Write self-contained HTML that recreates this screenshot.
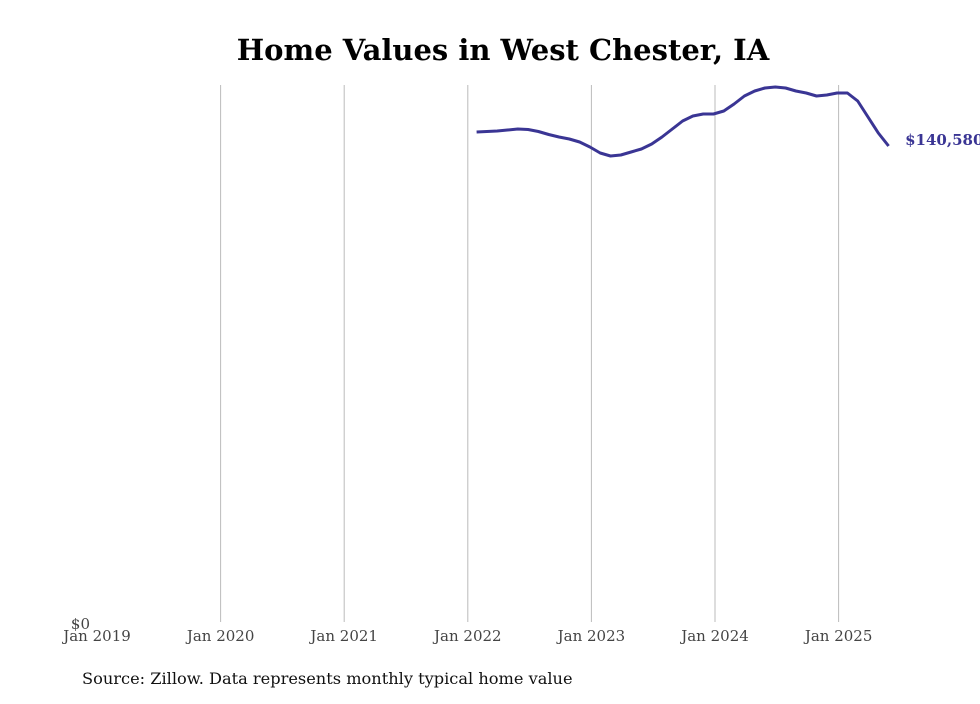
<!DOCTYPE html>
<html><head><meta charset="utf-8"><style>
body{margin:0;background:#fff;width:980px;height:699px;overflow:hidden}
svg{font-family:"DejaVu Serif","Liberation Serif",serif}
</style></head><body>
<svg width="980" height="699">
<text x="503" y="60" text-anchor="middle" font-size="29" font-weight="bold" fill="#000">Home Values in West Chester, IA</text>
<g id="grid"></g>
<g id="xt"></g>
<text x="90" y="629" text-anchor="end" font-size="15" fill="#444">$0</text>
<path id="line" fill="none" stroke="#3a3594" stroke-width="3" stroke-linejoin="round"/>
<text id="endlbl" font-size="15" font-weight="bold" fill="#3a3594"></text>
<text x="82" y="684" font-size="16.2" fill="#111">Source: Zillow. Data represents monthly typical home value</text>
</svg>
<script>
const tickLabels=["Jan 2019","Jan 2020","Jan 2021","Jan 2022","Jan 2023","Jan 2024","Jan 2025"];
const tickYears=[2019,2020,2021,2022,2023,2024,2025];
const startYear=2022, startMonth=1; // Feb 2022 (0-based month)
const values=[144690,144840,144990,145280,145570,145430,144840,143960,143230,142640,141760,140290,138530,137650,137940,138820,139700,141170,143230,145570,147920,149390,149970,149970,150850,152910,155260,156730,157610,157900,157610,156730,156140,155260,155550,156140,156140,153790,149100,144400,140580];
const endLabel="$140,580";
const x=t=>97+(t-2019)*123.6;
const y=v=>625-v*479/140580;
const ns="http://www.w3.org/2000/svg";
const grid=document.getElementById('grid'), xt=document.getElementById('xt');
tickYears.forEach((yr,i)=>{
  if(i>0){const l=document.createElementNS(ns,'line');
  l.setAttribute('x1',x(yr));l.setAttribute('x2',x(yr));l.setAttribute('y1',85);l.setAttribute('y2',622);
  l.setAttribute('stroke','#bbb');l.setAttribute('stroke-width','1');
  
  
  grid.appendChild(l);}
  const t=document.createElementNS(ns,'text');
  t.setAttribute('x',x(yr));t.setAttribute('y',641);t.setAttribute('text-anchor','middle');
  t.setAttribute('font-size','15');t.setAttribute('fill','#444');t.textContent=tickLabels[i];
  
  
  xt.appendChild(t);
});
let d="";
values.forEach((v,i)=>{const t=startYear+(startMonth+i)/12;d+=(i?"L":"M")+(x(t)-1.5).toFixed(1)+","+y(v).toFixed(1);});
document.getElementById('line').setAttribute('d',d);
const lt=startYear+(startMonth+values.length-1)/12, lv=values[values.length-1];
const el=document.getElementById('endlbl');
el.setAttribute('x',x(lt)+15);el.setAttribute('y',y(lv)-1);el.textContent=endLabel;
</script>
</body></html>
